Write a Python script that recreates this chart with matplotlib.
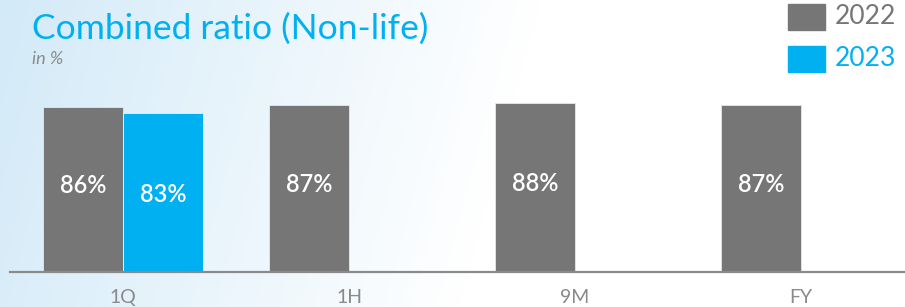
import numpy as np
import matplotlib
matplotlib.use("Agg")
import matplotlib.pyplot as plt
from matplotlib.colors import LinearSegmentedColormap

plt.rcParams['font.family'] = ['Lato', 'DejaVu Sans']

categories = ["1Q", "1H", "9M", "FY"]
values_2022 = [86, 87, 88, 87]
values_2023 = [83, None, None, None]
labels_2022 = ["86%", "87%", "88%", "87%"]
labels_2023 = ["83%", None, None, None]

GRAY = "#767676"
BLUE = "#00b0f0"

fig = plt.figure(figsize=(9.05, 3.07), dpi=100)

# background gradient (light blue at left fading to white)
bg = fig.add_axes([0, 0, 1, 1], zorder=0)
bg.set_axis_off()
gx = np.linspace(0, 1, 300)
gy = np.linspace(0, 1, 100)
X, Y = np.meshgrid(gx, gy)
grad = np.clip(1 - X / 0.6 - 0.15 * Y, 0, 1)
cm = LinearSegmentedColormap.from_list("bgc", ["#ffffff", "#d3eaf8"])
bg.imshow(grad, cmap=cm, aspect="auto", extent=[0, 1, 0, 1], vmin=0, vmax=1)
bg.set_xlim(0, 1)
bg.set_ylim(0, 1)

W, H = 905, 307
ax = fig.add_axes([10 / W, 35 / H, 1 - 10 / W, (272 - 60) / H], zorder=1)
ax.patch.set_alpha(0)

x = np.arange(len(categories))
bw = 80 / 226
for i, (v, lab) in enumerate(zip(values_2022, labels_2022)):
    ax.bar(x[i] - bw / 2, v, width=bw, color=GRAY, edgecolor="#e8e8e8", linewidth=0.6)
    ax.text(x[i] - bw / 2, v / 2 + 2, lab, color="white", ha="center", va="center",
            fontsize=17, fontweight="semibold")
for i, (v, lab) in enumerate(zip(values_2023, labels_2023)):
    if v is None:
        continue
    ax.bar(x[i] + bw / 2, v, width=bw, color=BLUE, edgecolor="#e8f6fd", linewidth=0.6)
    ax.text(x[i] + bw / 2, v / 2 - 1, lab, color="white", ha="center", va="center",
            fontsize=17, fontweight="semibold")

ax.set_xlim(-0.5, (W - 123) / 226)
ax.set_ylim(0, (272 - 60) / 1.92)
for s in ["top", "right", "left"]:
    ax.spines[s].set_visible(False)
ax.spines["bottom"].set_color("#8a8a8a")
ax.spines["bottom"].set_linewidth(1.6)
ax.set_yticks([])
ax.set_xticks(x)
ax.set_xticklabels(categories, color="#8a8a8a", fontsize=14)
ax.tick_params(axis="x", length=0, pad=12)

fig.text(32 / W, 1 - 29 / H, "Combined ratio (Non-life)", color=BLUE, fontsize=25.5,
         ha="left", va="center")
fig.text(32 / W, 1 - 59 / H, "in %", color="#8a8a8a", fontsize=13, style="italic",
         ha="left", va="center")

# legend
for yy, col, txt in [(17, GRAY, "2022"), (59, BLUE, "2023")]:
    fig.patches.append(plt.Rectangle((788 / W, 1 - (yy + 13) / H), 37 / W, 26 / H,
                                     transform=fig.transFigure, color=col))
    fig.text(835 / W, 1 - yy / H, txt, color=col if col == BLUE else "#767676",
             fontsize=19, ha="left", va="center")

fig.savefig("out.png", dpi=100)
